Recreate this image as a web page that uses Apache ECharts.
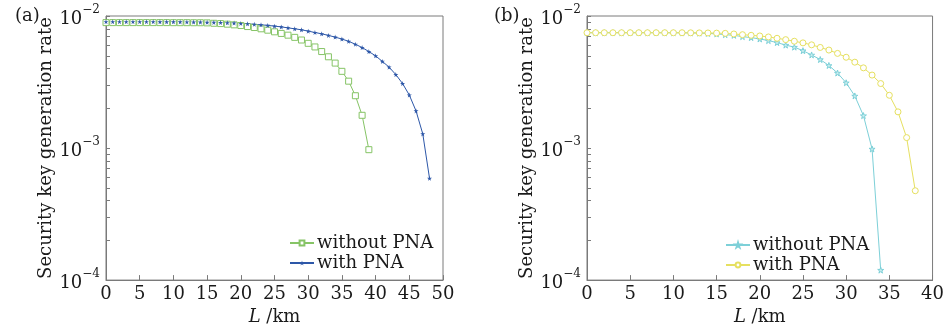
<!DOCTYPE html>
<html><head><meta charset="utf-8">
<script src="https://cdn.jsdelivr.net/npm/echarts@6/dist/echarts.min.js"></script>
<style>html,body{margin:0;padding:0;background:#fff}#c{width:947px;height:331px}</style>
</head><body><div id="c"></div>
<script>
// Panel (a)
const kmA_without = [0,1,2,3,4,5,6,7,8,9,10,11,12,13,14,15,16,17,18,19,20,21,22,23,24,25,26,27,28,29,30,31,32,33,34,35,36,37,38,39];
const rateA_without = [0.00891,0.00891,0.00891,0.00891,0.00891,0.00891,0.00891,0.00891,0.00891,0.00891,0.00890,0.00890,0.00890,0.00889,0.00889,0.00887,0.00881,0.00876,0.00867,0.00857,0.00847,0.00832,0.00818,0.00800,0.00781,0.00759,0.00738,0.00716,0.00689,0.00658,0.00621,0.00583,0.00538,0.00491,0.00440,0.00381,0.00321,0.00249,0.00177,0.000972];
const kmA_with = [0,1,2,3,4,5,6,7,8,9,10,11,12,13,14,15,16,17,18,19,20,21,22,23,24,25,26,27,28,29,30,31,32,33,34,35,36,37,38,39,40,41,42,43,44,45,46,47,48];
const rateA_with = [0.00905,0.00905,0.00905,0.00905,0.00905,0.00905,0.00905,0.00905,0.00904,0.00904,0.00903,0.00902,0.00901,0.00900,0.00898,0.00896,0.00894,0.00891,0.00888,0.00884,0.00878,0.00872,0.00865,0.00857,0.00849,0.00838,0.00827,0.00813,0.00800,0.00786,0.00768,0.00750,0.00733,0.00713,0.00692,0.00669,0.00643,0.00611,0.00577,0.00538,0.00499,0.00453,0.00410,0.00360,0.00308,0.00252,0.00191,0.00128,0.00059];
// Panel (b)
const kmB_without = [0,1,2,3,4,5,6,7,8,9,10,11,12,13,14,15,16,17,18,19,20,21,22,23,24,25,26,27,28,29,30,31,32,33,34];
const rateB_without = [0.00747,0.00747,0.00747,0.00747,0.00747,0.00747,0.00747,0.00747,0.00747,0.00746,0.00746,0.00745,0.00744,0.00742,0.00738,0.00732,0.00722,0.00714,0.00698,0.00686,0.00670,0.00651,0.00629,0.00602,0.00581,0.00546,0.00507,0.00468,0.00422,0.00370,0.00312,0.00248,0.00176,0.000984,0.000119];
const kmB_with = [0,1,2,3,4,5,6,7,8,9,10,11,12,13,14,15,16,17,18,19,20,21,22,23,24,25,26,27,28,29,30,31,32,33,34,35,36,37,38];
const rateB_with = [0.00747,0.00747,0.00747,0.00747,0.00747,0.00747,0.00747,0.00747,0.00747,0.00747,0.00747,0.00747,0.00746,0.00745,0.00744,0.00742,0.00739,0.00731,0.00722,0.00714,0.00706,0.00694,0.00678,0.00662,0.00644,0.00626,0.00605,0.00578,0.00552,0.00521,0.00487,0.00447,0.00405,0.00357,0.00308,0.00251,0.00188,0.00120,0.000475];
const xTicksA = {min:0, max:50, interval:5};
const xTicksB = {min:0, max:40, interval:5};
const yRange = {min:1e-4, max:1e-2};
const yLabelVals = [1e-4, 1e-3, 1e-2];
const seriesNames = ['without PNA','with PNA'];

const FONT = 'DejaVu Serif';
const TXT = '#1a1a1a';
const AX = '#7a7a7a';
const STAR = 'path://M50,0 L61,35 L98,35 L68,57 L79,91 L50,70 L21,91 L32,57 L2,35 L39,35 Z';

// tick positions on the log axis: decades plus 2..9 x decade
const yTickVals = [];
for (let e = -4; e <= -2; e++) {
  yTickVals.push(Number('1e' + e));
  if (e < -2) for (let k = 2; k <= 9; k++) yTickVals.push(Number(k + 'e' + e));
}

function pairs(xs, ys) { return xs.map((x, i) => [x, ys[i]]); }

function xAxisCfg(gi, t) {
  return {
    type:'value', gridIndex:gi, min:t.min, max:t.max, interval:t.interval,
    name:'{i|L} /km', nameLocation:'middle', nameGap:24,
    nameTextStyle:{fontFamily:FONT, fontSize:18, color:TXT, rich:{i:{fontFamily:FONT, fontSize:18, fontStyle:'italic', color:TXT}}},
    axisLine:{show:true, lineStyle:{color:AX, width:1}},
    axisTick:{show:true, inside:true, length:5, lineStyle:{color:AX}},
    axisLabel:{fontFamily:FONT, fontSize:18, color:TXT, margin:5},
    splitLine:{show:false}
  };
}
function yAxisMain(gi) {
  return {
    type:'log', logBase:10, gridIndex:gi, min:yRange.min, max:yRange.max,
    name:'Security key generation rate', nameLocation:'middle', nameGap:50,
    nameTextStyle:{fontFamily:FONT, fontSize:18, color:TXT},
    axisLine:{show:true, lineStyle:{color:AX, width:1}},
    axisTick:{show:true, inside:true, length:4, customValues:yTickVals, lineStyle:{color:AX}},
    axisLabel:{margin:6, customValues:yLabelVals, formatter:function(v){const e=Math.round(Math.log10(v)); return '{b|10}{s|\u2212'+(-e)+'}';},
      rich:{b:{fontFamily:FONT, fontSize:18, color:TXT, lineHeight:24, verticalAlign:'bottom'}, s:{fontFamily:FONT, fontSize:12, color:TXT, lineHeight:24, verticalAlign:'top'}}},
    splitLine:{show:false}
  };
}

const chart = echarts.init(document.getElementById('c'), null, {renderer:'canvas'});
chart.setOption({
  animation:false,
  backgroundColor:'#fff',
  title:[
    {text:'(a)', left:10, top:2, textStyle:{fontFamily:FONT, fontSize:18, fontWeight:'normal', color:TXT}},
    {text:'(b)', left:489, top:2, textStyle:{fontFamily:FONT, fontSize:18, fontWeight:'normal', color:TXT}}
  ],
  grid:[
    {left:106, right:504, top:16, bottom:48, show:true, borderColor:AX, borderWidth:1, backgroundColor:'transparent'},
    {left:587, right:10, top:16, bottom:47, show:true, borderColor:AX, borderWidth:1, backgroundColor:'transparent'}
  ],
  xAxis:[xAxisCfg(0, xTicksA), xAxisCfg(1, xTicksB)],
  yAxis:[yAxisMain(0), yAxisMain(1)],
  legend:[
    {left:284, top:228, orient:'vertical', itemWidth:24, itemHeight:6, itemGap:0,
     textStyle:{fontFamily:FONT, fontSize:18, color:TXT, lineHeight:20, padding:[0,0,0,-2]},
     data:[{name:seriesNames[0]+' '}, {name:seriesNames[1]+' '}]},
    {left:720, top:230, orient:'vertical', itemWidth:24, itemHeight:6, itemGap:0,
     textStyle:{fontFamily:FONT, fontSize:18, color:TXT, lineHeight:20, padding:[0,0,0,-2]},
     data:[{name:seriesNames[0]}, {name:seriesNames[1]}]}
  ],
  series:[
    {name:seriesNames[0]+' ', type:'line', xAxisIndex:0, yAxisIndex:0, data:pairs(kmA_without, rateA_without),
     symbol:'rect', symbolSize:6, color:'#86c466', lineStyle:{width:1, color:'#86c466'},
     itemStyle:{color:'#ffffff', borderColor:'#86c466', borderWidth:1}},
    {name:seriesNames[1]+' ', type:'line', xAxisIndex:0, yAxisIndex:0, data:pairs(kmA_with, rateA_with),
     symbol:STAR, symbolSize:5, color:'#2d57a8', lineStyle:{width:1, color:'#2d57a8'},
     itemStyle:{color:'#2d57a8'}},
    {name:seriesNames[0], type:'line', xAxisIndex:1, yAxisIndex:1, data:pairs(kmB_without, rateB_without),
     symbol:STAR, symbolSize:6, color:'#7dd0d8', lineStyle:{width:1, color:'#7dd0d8'},
     itemStyle:{color:'#c9eef0', borderColor:'#7dd0d8', borderWidth:1}},
    {name:seriesNames[1], type:'line', xAxisIndex:1, yAxisIndex:1, data:pairs(kmB_with, rateB_with),
     symbol:'circle', symbolSize:6, color:'#e6e060', lineStyle:{width:1, color:'#e6e060'},
     itemStyle:{color:'#ffffff', borderColor:'#e6e060', borderWidth:1}}
  ]
});
</script></body></html>
